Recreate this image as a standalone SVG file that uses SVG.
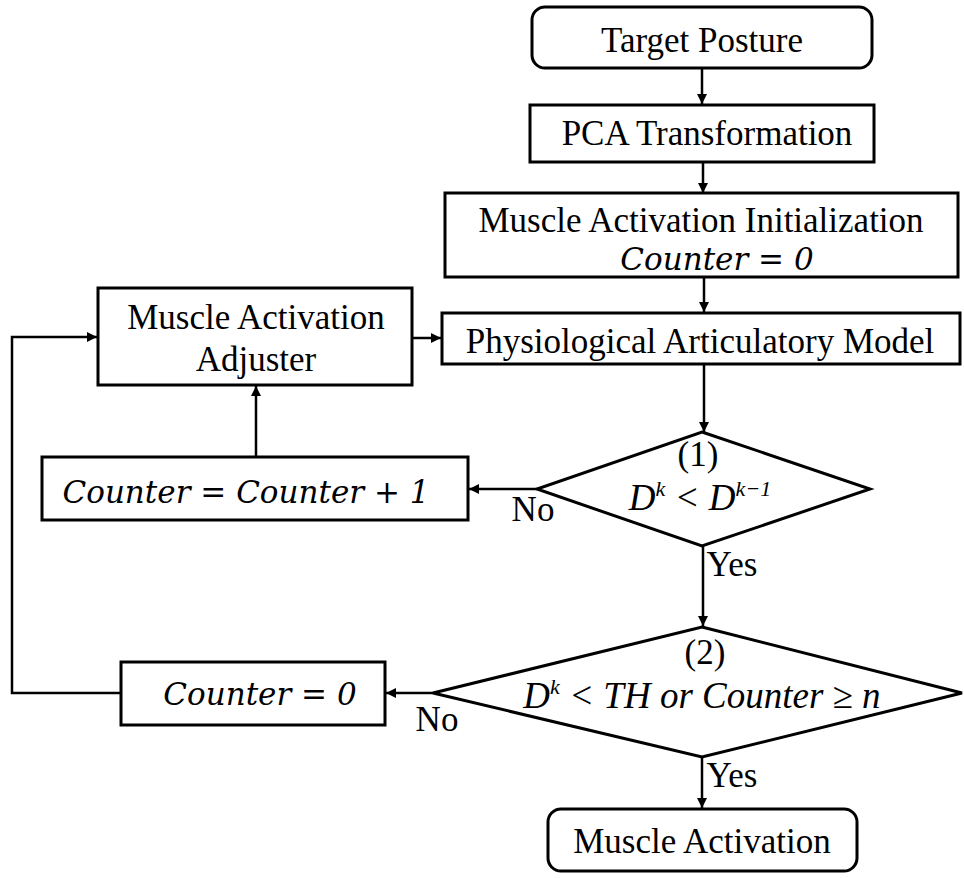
<svg xmlns="http://www.w3.org/2000/svg" width="964" height="878" viewBox="0 0 964 878">
<style>
.box{fill:#fff;stroke:#000;stroke-width:3}
.t{font-family:"Liberation Serif","Times New Roman",serif;font-size:35px;fill:#000;text-anchor:middle}
.m{font-family:"DejaVu Serif",serif;font-style:italic;font-size:31px;fill:#000;text-anchor:middle}
.mi{font-family:"Liberation Serif","Times New Roman",serif;font-style:italic;font-size:37px;fill:#000;text-anchor:middle}
.sup{font-size:22px}
.l{fill:none;stroke:#000;stroke-width:2.5}
</style>
<defs>
<marker id="ah" viewBox="0 0 10 10" refX="10" refY="5" markerWidth="10" markerHeight="10" markerUnits="userSpaceOnUse" orient="auto">
<path d="M0,0 L10,5 L0,10 z" fill="#000"/>
</marker>
</defs>
<rect width="964" height="878" fill="#fff"/>
<g id="connectors">
<line class="l" x1="702" y1="68" x2="702" y2="104" marker-end="url(#ah)"/>
<line class="l" x1="703" y1="162" x2="703" y2="193" marker-end="url(#ah)"/>
<line class="l" x1="704" y1="277" x2="704" y2="312" marker-end="url(#ah)"/>
<line class="l" x1="412" y1="338" x2="441" y2="338" marker-end="url(#ah)"/>
<line class="l" x1="704" y1="364" x2="704" y2="432" marker-end="url(#ah)"/>
<line class="l" x1="537" y1="489" x2="469" y2="489" marker-end="url(#ah)"/>
<line class="l" x1="256" y1="457" x2="256" y2="386" marker-end="url(#ah)"/>
<line class="l" x1="703" y1="546" x2="703" y2="626" marker-end="url(#ah)"/>
<line class="l" x1="433" y1="693" x2="386" y2="693" marker-end="url(#ah)"/>
<polyline class="l" points="121,693 12,693 12,337 97,337" marker-end="url(#ah)"/>
<line class="l" x1="702" y1="757" x2="702" y2="808" marker-end="url(#ah)"/>
<text class="t" x="533" y="521">No</text>
<text class="t" x="732" y="576">Yes</text>
<text class="t" x="437" y="731">No</text>
<text class="t" x="732" y="787">Yes</text>
</g>
<g id="target">
<rect class="box" x="532" y="7" width="340" height="61" rx="13"/>
<text class="t" x="702" y="52">Target Posture</text>
</g>
<g id="pca">
<rect class="box" x="530" y="105" width="344" height="57"/>
<text class="t" x="707" y="145">PCA Transformation</text>
</g>
<g id="init">
<rect class="box" x="445" y="193" width="513" height="84"/>
<text class="t" x="701" y="232">Muscle Activation Initialization</text>
<text class="m" x="717" y="270">Counter = 0</text>
</g>
<g id="model">
<rect class="box" x="442" y="313" width="518" height="51"/>
<text class="t" x="700" y="353">Physiological Articulatory Model</text>
</g>
<g id="adjuster">
<rect class="box" x="98" y="288" width="314" height="97"/>
<text class="t" x="256" y="329">Muscle Activation</text>
<text class="t" x="256" y="371">Adjuster</text>
</g>
<g id="increment">
<rect class="box" x="42" y="457" width="426" height="63"/>
<text class="m" x="246" y="503">Counter = Counter + 1</text>
</g>
<g id="cond1">
<polygon class="box" points="702,432 870,489 702,546 537,489"/>
<text class="t" x="698" y="466">(1)</text>
<text class="mi" x="700" y="510">D<tspan class="sup" dy="-14">k</tspan><tspan dy="14"> &lt; D</tspan><tspan class="sup" dy="-14">k−1</tspan></text>
</g>
<g id="cond2">
<polygon class="box" points="702,627 962,693 702,757 433,693"/>
<text class="t" x="705" y="664">(2)</text>
<text class="mi" x="702" y="708">D<tspan class="sup" dy="-14">k</tspan><tspan dy="14"> &lt; TH or Counter ≥ n</tspan></text>
</g>
<g id="reset">
<rect class="box" x="121" y="662" width="264" height="63"/>
<text class="m" x="260" y="705">Counter = 0</text>
</g>
<g id="output">
<rect class="box" x="548" y="809" width="309" height="62" rx="13"/>
<text class="t" x="702" y="853">Muscle Activation</text>
</g>
</svg>
